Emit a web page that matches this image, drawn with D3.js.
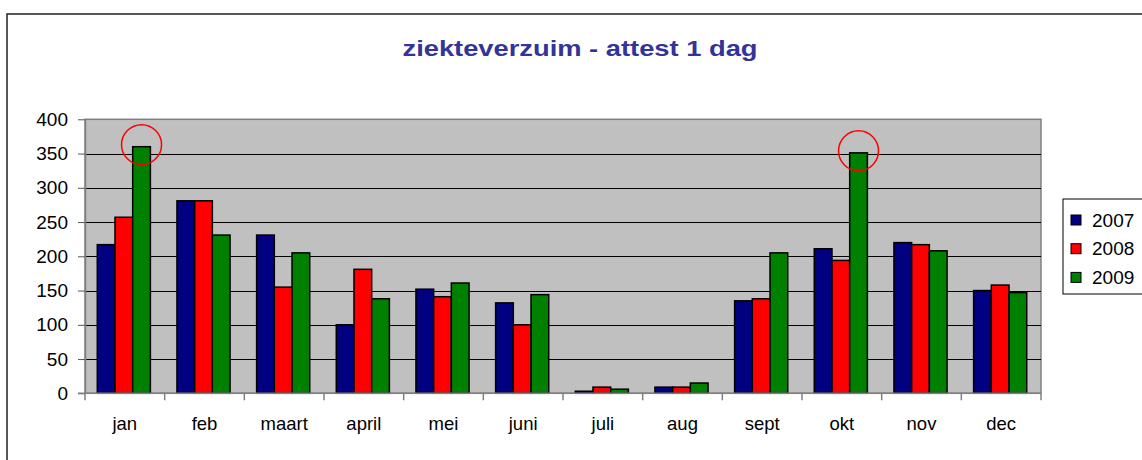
<!DOCTYPE html>
<html>
<head>
<meta charset="utf-8">
<script src="https://cdn.jsdelivr.net/npm/d3@7"></script>
<style>
  body { margin: 0; background: #fff; }
  svg text { font-family: "Liberation Sans", Arial, sans-serif; }
</style>
</head>
<body>
<svg width="1142" height="460"></svg>
<script>
// data
var months = ["jan", "feb", "maart", "april", "mei", "juni", "juli", "aug", "sept", "okt", "nov", "dec"];
var years = ["2007", "2008", "2009"];
var v2007 = [217, 281, 231, 100, 152, 132, 3, 9, 135, 211, 220, 150];
var v2008 = [257, 281, 155, 181, 141, 100, 9, 9, 138, 194, 217, 158];
var v2009 = [360, 231, 205, 138, 161, 144, 6, 15, 205, 351, 208, 147];
var yTicks = [0, 50, 100, 150, 200, 250, 300, 350, 400];
var circled = ["jan", "okt"]; // green bars marked with a red ring
var colors = ["#000080", "#ff0000", "#008000"];

var series = [v2007, v2008, v2009];

var svg = d3.select("svg"),
    plotLeft = 85, plotRight = 1041, plotTop = 119.3, plotBottom = 393.3;

// outer chart border (runs off the picture on the right and bottom)
svg.append("rect")
    .attr("x", 7).attr("y", 14)
    .attr("width", 1200).attr("height", 500)
    .attr("fill", "#fff")
    .attr("stroke", "#222")
    .attr("stroke-width", 1.5);

// the excel title is stretched a bit wider than the font would be
svg.append("text")
    .attr("x", 580).attr("y", 56)
    .attr("text-anchor", "middle")
    .attr("textLength", 355)
    .attr("lengthAdjust", "spacingAndGlyphs")
    .style("font-size", "22px")
    .style("font-weight", "bold")
    .style("fill", "#333399")
    .text("ziekteverzuim - attest 1 dag");

var x = d3.scaleBand().domain(months).range([plotLeft, plotRight]);
var xs = d3.scaleBand().domain(years).range([0, x.bandwidth()]).paddingOuter(0.75);
var y = d3.scaleLinear().domain([0, 400]).range([plotBottom, plotTop]);

// plot area
svg.append("rect")
    .attr("x", plotLeft).attr("y", plotTop)
    .attr("width", plotRight - plotLeft).attr("height", plotBottom - plotTop)
    .attr("fill", "#c0c0c0")
    .attr("stroke", "#808080")
    .attr("stroke-width", 1.5);

svg.append("g").selectAll("line")
    .data(yTicks.filter(function(d) { return d > 0 && d < 400; }))
    .enter().append("line")
    .attr("x1", plotLeft).attr("x2", plotRight)
    .attr("y1", function(d) { return Math.round(y(d)) + 0.5; })
    .attr("y2", function(d) { return Math.round(y(d)) + 0.5; })
    .attr("stroke", "#000")
    .attr("stroke-width", 1.2);

// bars
var groups = svg.append("g").selectAll("g")
    .data(months)
    .enter().append("g")
    .attr("transform", function(m) { return "translate(" + x(m) + ",0)"; });

groups.selectAll("rect")
    .data(function(m, i) { return years.map(function(yr, k) { return {year: yr, k: k, value: series[k][i]}; }); })
    .enter().append("rect")
    .attr("x", function(d) { return xs(d.year) - 1; })
    .attr("width", xs.bandwidth())
    .attr("y", function(d) { return y(d.value); })
    .attr("height", function(d) { return plotBottom - y(d.value); })
    .attr("fill", function(d) { return colors[d.k]; })
    .attr("stroke", "#000")
    .attr("stroke-width", 1.5);

// axes
var yAxis = svg.append("g")
    .attr("transform", "translate(" + plotLeft + ",0)")
    .call(d3.axisLeft(y).tickValues(yTicks).tickSize(7).tickPadding(10).tickSizeOuter(0));
yAxis.select(".domain").attr("stroke", "#808080").attr("stroke-width", 1.5);
yAxis.selectAll(".tick line").attr("stroke", "#555");
yAxis.selectAll("text").style("font-size", "19px").style("fill", "#000");

var xAxis = svg.append("g")
    .attr("transform", "translate(0," + plotBottom + ")");
xAxis.append("line")
    .attr("x1", plotLeft - 7).attr("x2", plotRight)
    .attr("stroke", "#808080").attr("stroke-width", 1.5);
xAxis.selectAll(".xt")
    .data(months.map(function(m) { return x(m); }).concat([plotRight]))
    .enter().append("line")
    .attr("class", "xt")
    .attr("x1", function(d) { return d; }).attr("x2", function(d) { return d; })
    .attr("y1", 0).attr("y2", 7)
    .attr("stroke", "#808080").attr("stroke-width", 1.5);
xAxis.selectAll("text")
    .data(months)
    .enter().append("text")
    .attr("x", function(m) { return x(m) + x.bandwidth() / 2; })
    .attr("y", 37)
    .attr("text-anchor", "middle")
    .style("font-size", "18.5px")
    .text(function(m) { return m; });

// red rings on the two peaks
svg.append("g").selectAll("circle")
    .data(circled)
    .enter().append("circle")
    .attr("cx", function(m) { return x(m) + xs("2009") + xs.bandwidth() / 2 - 1; })
    .attr("cy", function(m) { return y(v2009[months.indexOf(m)]) - 2; })
    .attr("r", 20)
    .attr("fill", "none")
    .attr("stroke", "#ff0000")
    .attr("stroke-width", 1.5);

// legend
var legend = svg.append("g");
legend.append("rect")
    .attr("x", 1063).attr("y", 199)
    .attr("width", 120).attr("height", 95)
    .attr("fill", "#fff")
    .attr("stroke", "#000")
    .attr("stroke-width", 1);
var rows = legend.selectAll("g")
    .data(years)
    .enter().append("g")
    .attr("transform", function(d, i) { return "translate(0," + (220 + i * 28.7) + ")"; });
rows.append("rect")
    .attr("x", 1071).attr("y", -5)
    .attr("width", 10).attr("height", 10)
    .attr("fill", function(d, i) { return colors[i]; })
    .attr("stroke", "#000")
    .attr("stroke-width", 1);
rows.append("text")
    .attr("x", 1092).attr("dy", "0.35em")
    .style("font-size", "19px")
    .text(function(d) { return d; });
</script>
</body>
</html>
